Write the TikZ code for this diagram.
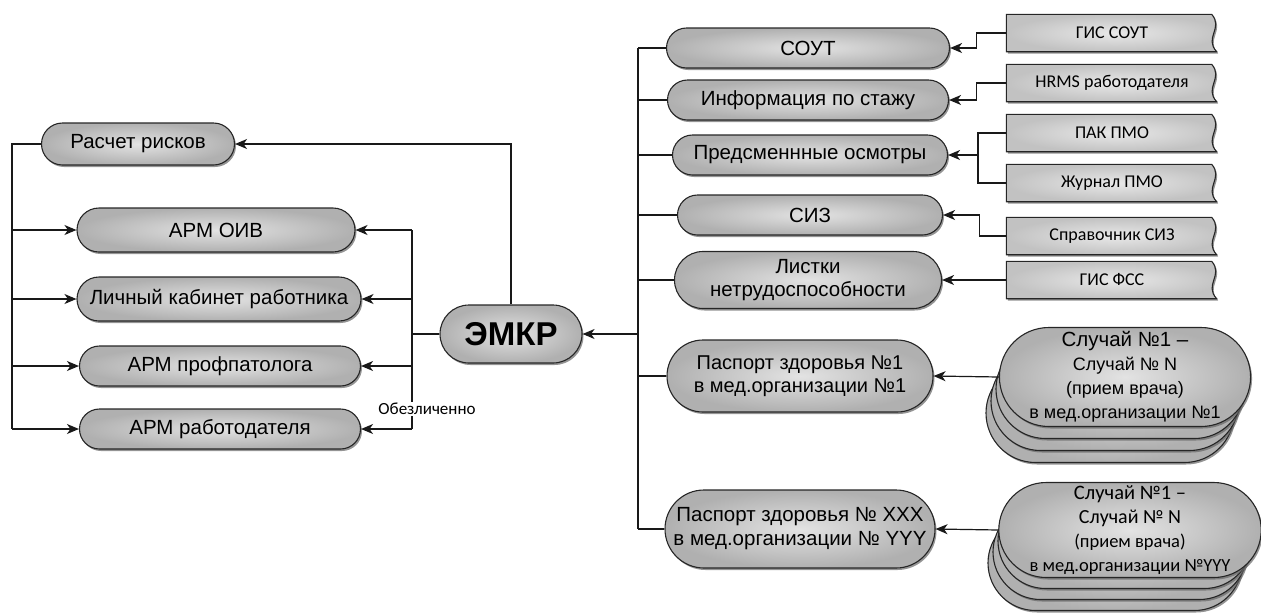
\documentclass[tikz,border=0pt]{standalone}
\usepackage{fontspec}
\setmainfont{Liberation Sans}
\newfontfamily\calfont{Carlito}
\usetikzlibrary{shapes.misc,shadows,arrows.meta,calc}
\pgfdeclarelayer{background}
\pgfsetlayers{background,main}
\newcommand\fsz[2]{\fontsize{#1}{#2}\selectfont}
\newcommand\docshape[1]{%
  \begin{pgfonlayer}{background}
  \path[docfill] (#1.north west) -- ([xshift=-6pt]#1.north east)
    .. controls ([xshift=6pt,yshift=-14pt]#1.north east) and ([xshift=-14pt,yshift=14pt]#1.south east)
    .. ([xshift=-1pt]#1.south east) -- (#1.south west) -- cycle;
  \end{pgfonlayer}}
\tikzset{
  rr/.style={rounded rectangle, draw=black!85, line width=1.1pt,
    inner color=gray!22, outer color=gray!62,
    drop shadow={shadow xshift=1.5pt, shadow yshift=-2pt, fill=black!60, opacity=0.7},
    inner sep=0pt, align=center, text=black},
  doc/.style={rectangle, draw=none, inner sep=0pt, minimum width=211pt, minimum height=37pt,
    font=\calfont\fsz{18}{20}},
  docfill/.style={draw=black!85, line width=1.1pt, inner color=gray!18, outer color=gray!48,
    drop shadow={shadow xshift=1.5pt, shadow yshift=-2pt, fill=black!60, opacity=0.7}},
  arr/.style={-{Stealth[length=12pt,width=10pt,inset=3.5pt]}},
  ln/.style={draw=black!90, line width=1.2pt},
}
\begin{document}
\begin{tikzpicture}[x=1pt,y=-1pt]
\useasboundingbox (0,0) rectangle (1261,614);

% left nodes
\node[rr, minimum width=193pt, minimum height=42pt, font=\fsz{20.5}{24}] (L0) at (138,144) {Расчет рисков};
\node[rr, minimum width=278pt, minimum height=44pt, font=\fsz{20.5}{24}] (L1) at (216,230) {АРМ ОИВ};
\node[rr, minimum width=284pt, minimum height=44pt, font=\fsz{20.5}{24}] (L2) at (219,299) {Личный кабинет работника};
\node[rr, minimum width=281pt, minimum height=40pt, font=\fsz{20.5}{24}] (L3) at (220,366) {АРМ профпатолога};
\node[rr, minimum width=281pt, minimum height=40pt, font=\fsz{20.5}{24}] (L4) at (220,429) {АРМ работодателя};

% center
\node[rr, minimum width=142pt, minimum height=58pt, font=\bfseries\fsz{33}{36}] (E) at (511,334) {ЭМКР};

% right nodes
\node[rr, minimum width=283pt, minimum height=40pt, font=\fsz{20.5}{24}] (R1) at (808,48) {СОУТ};
\node[rr, minimum width=281pt, minimum height=40pt, font=\fsz{20.5}{24}] (R2) at (808,100) {Информация по стажу};
\node[rr, minimum width=275pt, minimum height=40pt, font=\fsz{20.5}{24}] (R3) at (810,155) {Предсменнные осмотры};
\node[rr, minimum width=265pt, minimum height=40pt, font=\fsz{20.5}{24}] (R4) at (810,215) {СИЗ};
\node[rr, minimum width=267pt, minimum height=57pt, font=\fsz{20.5}{23}] (R5) at (808,280) {Листки\\нетрудоспособности};
\node[rr, minimum width=266pt, minimum height=72pt, font=\fsz{20}{23}] (R6) at (800,376) {Паспорт здоровья №1\\в мед.организации №1};
\node[rr, minimum width=270pt, minimum height=78pt, font=\fsz{20.5}{24}] (R7) at (800,529) {Паспорт здоровья № XXX\\в мед.организации № YYY};

% documents
\node[doc] (D1) at (1112,33) {ГИС СОУТ};
\node[doc] (D2) at (1112,83) {HRMS работодателя};
\node[doc] (D3) at (1112,133) {ПАК ПМО};
\node[doc] (D4) at (1112,183) {Журнал ПМО};
\node[doc] (D5) at (1112,236) {Справочник СИЗ};
\node[doc] (D6) at (1112,280) {ГИС ФСС};
\docshape{D1}\docshape{D2}\docshape{D3}\docshape{D4}\docshape{D5}\docshape{D6}

% case stacks 1
\node[rr, minimum width=248pt, minimum height=99pt] (C1c) at (1110,413) {};
\node[rr, minimum width=248pt, minimum height=99pt] (C1b) at (1115,401) {};
\node[rr, minimum width=248pt, minimum height=99pt] (C1a) at (1120,389) {};
\node[rr, minimum width=250pt, minimum height=99pt, font=\fsz{18}{24}] (C1) at (1125,377)
  {{\fsz{20.5}{24}Случай №1 –}\\Случай № N\\(прием врача)\\в мед.организации №1};

% case stacks 2
\node[rr, minimum width=254pt, minimum height=95pt] (C2c) at (1115,563) {};
\node[rr, minimum width=254pt, minimum height=95pt] (C2b) at (1120,552) {};
\node[rr, minimum width=254pt, minimum height=95pt] (C2a) at (1125,541) {};
\node[rr, minimum width=256pt, minimum height=95pt, font=\calfont\fsz{18.5}{24}] (C2) at (1130,530)
  {{\fsz{20.5}{24}Случай №1 –}\\{\fsz{20}{24}Случай № N}\\(прием врача)\\в мед.организации №YYY};

% left side connectors
\coordinate (lb) at (12,144);
\draw[ln] (L0.west) -- (lb) -- (lb |- L4.west);
\draw[ln,arr] (lb |- L1.west) -- (L1.west);
\draw[ln,arr] (lb |- L2.west) -- (L2.west);
\draw[ln,arr] (lb |- L3.west) -- (L3.west);
\draw[ln,arr] (lb |- L4.west) -- (L4.west);

% EMKR to left
\coordinate (bl) at (412,334);
\draw[ln] (E.west) -- (bl);
\draw[ln] (bl |- L1.east) -- (bl |- L4.east);
\draw[ln,arr] (bl |- L1.east) -- (L1.east);
\draw[ln,arr] (bl |- L2.east) -- (L2.east);
\draw[ln,arr] (bl |- L3.east) -- (L3.east);
\draw[ln,arr] (bl |- L4.east) -- (L4.east);
\draw[ln,arr] (E.north) |- (L0.east);
\node[fill=white, inner sep=1pt, font=\calfont\fsz{17}{19}] (lbl) at (427,409) {Обезличенно};

% right bus
\coordinate (br) at (638,334);
\draw[ln] (br |- R1.west) -- (br |- R7.west);
\draw[ln,arr] (br) -- (E.east);
\foreach \n in {R1,R2,R3,R4,R5,R6,R7} \draw[ln] (br |- \n.west) -- (\n.west);

% docs to right nodes
\draw[ln,arr] (D1.west) -- ++(-30,0) |- (R1.east);
\draw[ln,arr] (D2.west) -- ++(-30,0) |- (R2.east);
\coordinate (j3) at (978,155);
\draw[ln] (D3.west) -| (j3);
\draw[ln] (D4.west) -| (j3);
\draw[ln,arr] (j3) -- (R3.east);
\draw[ln,arr] (D5.west) -- ++(-27,0) |- (R4.east);
\draw[ln,arr] (D6.west) -- (R5.east);

% cases to passports
\draw[ln,arr] (C1.west) -- (R6.east);
\draw[ln,arr] (C2.west) -- (R7.east);
\end{tikzpicture}
\end{document}
